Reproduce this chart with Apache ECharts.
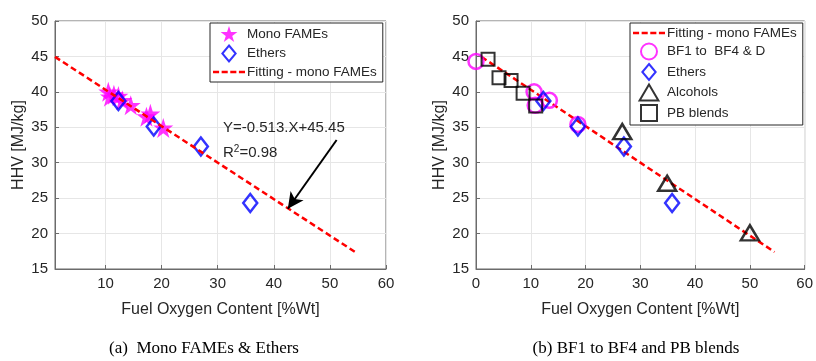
<!DOCTYPE html>
<html>
<head>
<meta charset="utf-8">
<title>HHV vs oxygen content</title>
<script src="https://cdn.jsdelivr.net/npm/echarts@6/dist/echarts.min.js"></script>
<style>
  html, body { margin: 0; padding: 0; background: #fff; }
  #chart { width: 816px; height: 361px; }
</style>
</head>
<body>
<div id="chart"></div>
<script>
// ---- data ----
// (a) mono FAMEs (stars)
var fameX = [10.5, 10.8, 11.5, 12.3, 13.0, 14.5, 17.3, 18.0, 20.3];
var fameY = [40.0, 39.3, 39.6, 39.4, 38.8, 38.1, 36.5, 36.9, 34.9];
// ethers (diamonds), same in both panels
var etherX = [12.3, 18.6, 27.0, 35.8];
var etherY = [38.7, 35.1, 32.3, 24.3];
// fitting line end points
var fitX = [1, 54.5];
var fitY = [44.94, 17.4];
// (b) BF1 to BF4 & D (circles)
var bfX = [0, 10.6, 10.8, 13.4, 18.6];
var bfY = [44.3, 40.0, 38.1, 38.8, 35.4];
// alcohols (triangles)
var alcX = [26.7, 34.9, 50.0];
var alcY = [34.4, 27.1, 20.1];
// PB blends (squares)
var pbX = [2.2, 4.2, 6.4, 8.6, 10.9];
var pbY = [44.6, 42.0, 41.6, 39.8, 38.0];
// arrow from the equation text to the fitting line
var arrowFrom = [51.2, 33.2];
var arrowTo = [42.5, 23.5];

var xTicks = [10, 20, 30, 40, 50, 60];

// marker shapes as paths so the legend keeps their aspect
var STAR = 'path://M50,0 L61.2,34.5 L97.6,34.5 L68.2,55.9 L79.4,90.5 L50,69.1 L20.6,90.5 L31.8,55.9 L2.4,34.5 L38.8,34.5 Z';
var DIAMOND = 'path://M50,0 L100,60 L50,120 L0,60 Z';
var TRIANGLE = 'path://M50,0 L100,85 L0,85 Z';
var SQUARE = 'path://M0,0 L100,0 L100,100 L0,100 Z';
var DASHES = 'path://M0,0 L60,0 L60,25 L0,25 Z M85,0 L145,0 L145,25 L85,25 Z M170,0 L230,0 L230,25 L170,25 Z M255,0 L315,0 L315,25 L255,25 Z';

var txtColor = '#262626';
var axColor = '#6b6b6b';
var FONT = '"Liberation Sans", Arial, sans-serif';
var SERIF = '17px "Liberation Serif", "Times New Roman", serif';

function pairs(xs, ys) {
    var out = [];
    for (var i = 0; i < xs.length; i++) {
        out.push([xs[i], ys[i]]);
    }
    return out;
}

function makeX(idx, min, custom) {
    var ax = {
        type: 'value',
        gridIndex: idx,
        min: min,
        max: 60,
        interval: 10,
        name: 'Fuel Oxygen Content [%Wt]',
        nameLocation: 'middle',
        nameGap: 33,
        nameTextStyle: { color: txtColor, fontSize: 16, fontFamily: FONT },
        axisLine: { onZero: false, lineStyle: { color: axColor } },
        axisTick: { inside: true, length: 4, lineStyle: { color: axColor } },
        axisLabel: { color: txtColor, fontSize: 15, fontFamily: FONT, margin: 7 },
        splitLine: { show: true, lineStyle: { color: '#e6e6e6' } }
    };
    if (custom) {
        ax.axisTick.customValues = xTicks;
        ax.axisLabel.customValues = xTicks;
    }
    return ax;
}

function makeY(idx) {
    return {
        type: 'value',
        gridIndex: idx,
        min: 15,
        max: 50,
        interval: 5,
        name: 'HHV [MJ/kg]',
        nameLocation: 'middle',
        nameGap: 28,
        nameTextStyle: { color: txtColor, fontSize: 16, fontFamily: FONT },
        axisLine: { onZero: false, lineStyle: { color: axColor } },
        axisTick: { inside: true, length: 4, lineStyle: { color: axColor } },
        axisLabel: { color: txtColor, fontSize: 15, fontFamily: FONT, margin: 7 },
        splitLine: { show: true, lineStyle: { color: '#e6e6e6' } }
    };
}

function fitSeries(idx, z) {
    return {
        name: 'Fitting - mono FAMEs',
        type: 'line',
        xAxisIndex: idx,
        yAxisIndex: idx,
        data: pairs(fitX, fitY),
        symbol: 'none',
        z: z,
        itemStyle: { color: '#ff0000' },
        lineStyle: { color: '#ff0000', width: 2.5, type: [6, 3.5] }
    };
}

function etherSeries(idx) {
    return {
        name: 'Ethers',
        type: 'scatter',
        xAxisIndex: idx,
        yAxisIndex: idx,
        data: pairs(etherX, etherY),
        symbol: DIAMOND,
        symbolSize: [14, 18],
        z: 3,
        itemStyle: { color: 'rgba(0,0,0,0)', borderColor: '#0000ff', borderWidth: 2.5 }
    };
}

var legendBase = {
    orient: 'vertical',
    top: 23,
    itemWidth: 32,
    itemHeight: 16,
    itemGap: 2.5,
    padding: [3, 6, 3, 3],
    borderColor: '#262626',
    borderWidth: 1,
    backgroundColor: '#fff',
    symbolKeepAspect: true,
    textStyle: { color: txtColor, fontSize: 13.5, fontFamily: FONT, padding: [0, 0, 0, -3] }
};
var fitLegendItem = { name: 'Fitting - mono FAMEs', icon: DASHES };

var chart = echarts.init(document.getElementById('chart'));
chart.setOption({
    animation: false,
    backgroundColor: '#fff',
    grid: [
        { left: 55, top: 21, width: 331, height: 248, show: true, borderColor: axColor, borderWidth: 1 },
        { left: 476, top: 21, width: 330, height: 248, show: true, borderColor: axColor, borderWidth: 1 }
    ],
    xAxis: [makeX(0, 1, true), makeX(1, 0, false)],
    yAxis: [makeY(0), makeY(1)],
    legend: [
        Object.assign({}, legendBase, {
            left: 210,
            data: ['Mono FAMEs', 'Ethers', fitLegendItem]
        }),
        Object.assign({}, legendBase, {
            left: 630,
            data: [fitLegendItem, 'BF1 to  BF4 & D', 'Ethers', 'Alcohols', 'PB blends']
        })
    ],
    graphic: [
        { type: 'text', z: 100, left: 223, top: 120, style: { text: 'Y=-0.513.X+45.45', fill: txtColor, font: '15px ' + FONT } },
        { type: 'text', z: 100, left: 223, top: 144, style: {
            text: 'R{sup|2}=0.98', fill: txtColor, font: '15px ' + FONT,
            rich: { sup: { fontSize: 10, verticalAlign: 'top', padding: [0, 0, 7, 0], fill: txtColor } }
        } },
        { type: 'text', x: 204, y: 349, style: { text: '(a)  Mono FAMEs & Ethers', fill: '#000', font: SERIF, align: 'center', verticalAlign: 'middle' } },
        { type: 'text', x: 636, y: 349, style: { text: '(b) BF1 to BF4 and PB blends', fill: '#000', font: SERIF, align: 'center', verticalAlign: 'middle' } }
    ],
    series: [
        // panel (a)
        {
            name: 'Mono FAMEs',
            type: 'scatter',
            xAxisIndex: 0,
            yAxisIndex: 0,
            data: pairs(fameX, fameY),
            symbol: STAR,
            symbolSize: 20,
            z: 2,
            itemStyle: { color: '#ff00ff' }
        },
        etherSeries(0),
        fitSeries(0, 4),
        {
            type: 'line',
            xAxisIndex: 0,
            yAxisIndex: 0,
            data: [],
            markLine: {
                silent: true,
                symbol: ['none', 'arrow'],
                symbolSize: [12, 16],
                label: { show: false },
                lineStyle: { color: '#000', width: 2, type: 'solid' },
                data: [[{ coord: arrowFrom }, { coord: arrowTo }]]
            }
        },
        // panel (b)
        fitSeries(1, 1),
        {
            name: 'BF1 to  BF4 & D',
            type: 'scatter',
            xAxisIndex: 1,
            yAxisIndex: 1,
            data: pairs(bfX, bfY),
            symbol: 'circle',
            symbolSize: 15,
            z: 2,
            itemStyle: { color: 'rgba(0,0,0,0)', borderColor: '#ff00ff', borderWidth: 2.5 }
        },
        etherSeries(1),
        {
            name: 'Alcohols',
            type: 'scatter',
            xAxisIndex: 1,
            yAxisIndex: 1,
            data: pairs(alcX, alcY),
            symbol: TRIANGLE,
            symbolSize: [18, 15],
            z: 4,
            itemStyle: { color: 'rgba(0,0,0,0)', borderColor: '#000', borderWidth: 2.5 }
        },
        {
            name: 'PB blends',
            type: 'scatter',
            xAxisIndex: 1,
            yAxisIndex: 1,
            data: pairs(pbX, pbY),
            symbol: SQUARE,
            symbolSize: 13,
            z: 5,
            itemStyle: { color: 'rgba(0,0,0,0)', borderColor: '#000', borderWidth: 2 }
        }
    ]
});
</script>
</body>
</html>
